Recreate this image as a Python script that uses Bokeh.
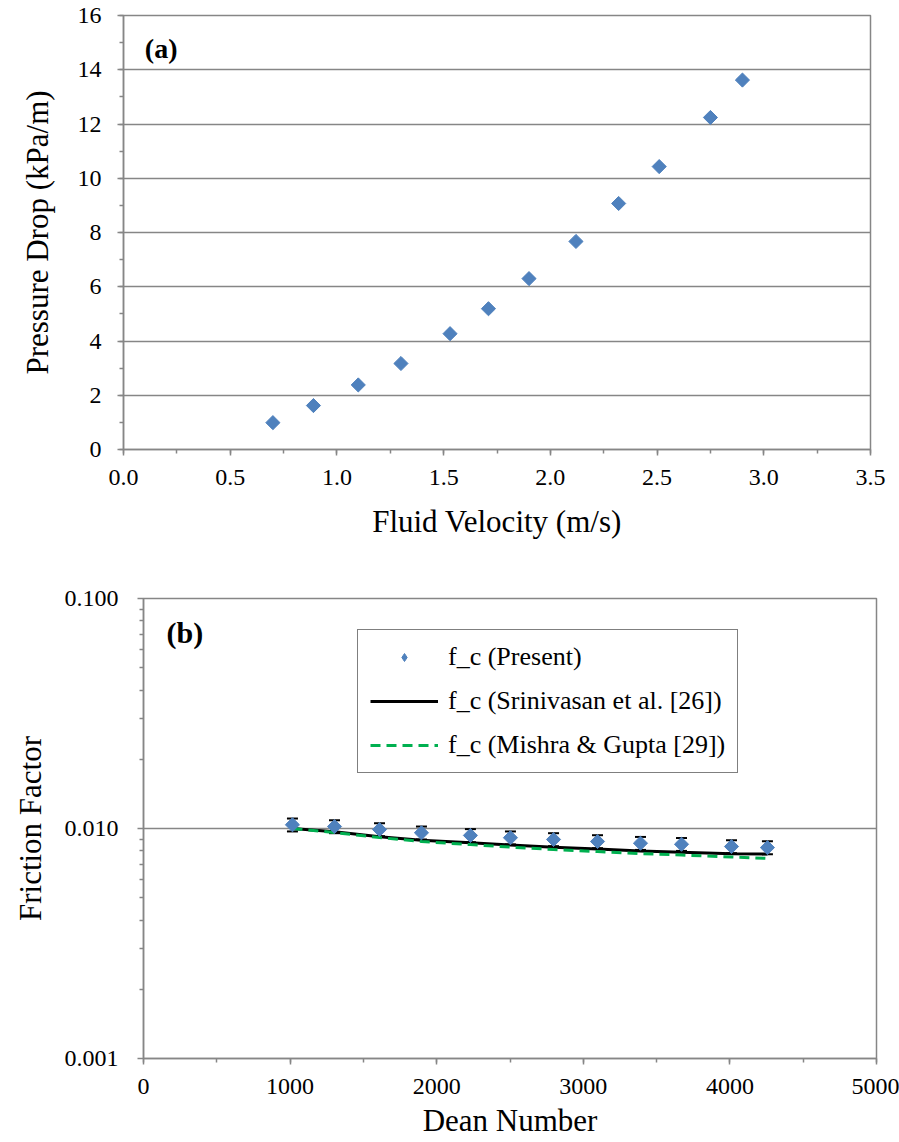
from bokeh.plotting import figure
from bokeh.models import (SingleIntervalTicker, FixedTicker, PrintfTickFormatter, Label,
                          Legend, LegendItem, Whisker, TeeHead, ColumnDataSource)
from bokeh.embed import file_html
from bokeh.resources import INLINE

# ---------------- data ----------------
velocity = [0.70, 0.89, 1.10, 1.30, 1.53, 1.71, 1.90, 2.12, 2.32, 2.51, 2.75, 2.90]
pressure_drop = [0.99, 1.62, 2.38, 3.17, 4.27, 5.19, 6.30, 7.67, 9.07, 10.43, 12.24, 13.62]

dean = [1016, 1303, 1610, 1896, 2230, 2503, 2797, 3097, 3390, 3670, 4011, 4256]
f_present = [0.01038, 0.01020, 0.00990, 0.00958, 0.00933, 0.00912, 0.00896, 0.00878,
             0.00863, 0.00854, 0.00835, 0.00826]
f_err = [0.00067, 0.00066, 0.00064, 0.00062, 0.00061, 0.00059, 0.00058, 0.00057,
         0.00056, 0.00055, 0.00054, 0.00054]
f_srinivasan = [0.01000, 0.00969, 0.00921, 0.00890, 0.00868, 0.00848, 0.00829, 0.00815,
                0.00799, 0.00788, 0.00776, 0.00774]
f_mishra = [0.01000, 0.00960, 0.00913, 0.00878, 0.00851, 0.00830, 0.00810, 0.00794,
            0.00778, 0.00767, 0.00752, 0.00741]

FONT = "'Liberation Serif'"
GRAY = "#868686"
BLUE = "#4F81BD"
GREEN = "#00B050"


def style(p):
    p.background_fill_color = "white"
    p.border_fill_color = "white"
    p.outline_line_color = GRAY
    p.outline_line_width = 1.5
    p.xgrid.visible = False
    p.ygrid.grid_line_color = GRAY
    p.ygrid.grid_line_width = 1.5
    for ax in (p.xaxis[0], p.yaxis[0]):
        ax.axis_line_color = GRAY
        ax.axis_line_width = 1.5
        ax.major_tick_line_color = GRAY
        ax.major_tick_line_width = 1.5
        ax.minor_tick_line_color = GRAY
        ax.minor_tick_line_width = 1.5
        ax.major_tick_in = 0
        ax.major_tick_out = 6
        ax.minor_tick_in = 0
        ax.minor_tick_out = 4
        ax.major_label_text_font = FONT
        ax.major_label_text_font_size = "24px"
        ax.major_label_text_color = "black"
        ax.axis_label_text_font = FONT
        ax.axis_label_text_font_size = "31px"
        ax.axis_label_text_font_style = "normal"
        ax.axis_label_text_color = "black"


# ---------------- (a) ----------------
p1 = figure(width=899, height=560, x_range=(0, 3.5), y_range=(0, 16),
            output_backend="svg", toolbar_location=None,
            min_border_left=123, min_border_right=29, min_border_top=15, min_border_bottom=111)
style(p1)
p1.xaxis.ticker = SingleIntervalTicker(interval=0.5, num_minor_ticks=2)
p1.yaxis.ticker = SingleIntervalTicker(interval=2, num_minor_ticks=2)
p1.xaxis.formatter = PrintfTickFormatter(format="%.1f")
p1.xaxis.axis_label = "Fluid Velocity (m/s)"
p1.yaxis.axis_label = "Pressure Drop (kPa/m)"
p1.xaxis.major_label_standoff = 14
p1.xaxis.axis_label_standoff = 16
p1.yaxis.major_label_standoff = 16
p1.yaxis.axis_label_standoff = 20

p1.scatter(velocity, pressure_drop, marker="square", size=10, angle=0.785398,
           fill_color=BLUE, line_color=BLUE)
p1.add_layout(Label(x=0.1, y=14.8, text="(a)", text_font=FONT, text_font_size="28px",
                    text_font_style="bold", text_baseline="middle", text_color="black"))

# ---------------- (b) ----------------
p2 = figure(width=899, height=582, x_range=(0, 5000), y_range=(0.001, 0.1),
            y_axis_type="log", output_backend="svg", toolbar_location=None,
            min_border_left=143, min_border_right=23, min_border_top=38, min_border_bottom=84)
style(p2)
p2.xaxis.ticker = SingleIntervalTicker(interval=1000, num_minor_ticks=2)
p2.yaxis.ticker = FixedTicker(ticks=[0.001, 0.01, 0.1],
                              minor_ticks=[0.002, 0.003, 0.004, 0.005, 0.006, 0.007, 0.008, 0.009,
                                           0.02, 0.03, 0.04, 0.05, 0.06, 0.07, 0.08, 0.09])
p2.yaxis.formatter = PrintfTickFormatter(format="%.3f")
p2.xaxis.axis_label = "Dean Number"
p2.yaxis.axis_label = "Friction Factor"
p2.xaxis.major_label_standoff = 14
p2.xaxis.axis_label_standoff = 6
p2.yaxis.major_label_standoff = 19
p2.yaxis.axis_label_standoff = 14

src = ColumnDataSource(dict(x=dean, f=f_present,
                            upper=[a + b for a, b in zip(f_present, f_err)],
                            lower=[a - b for a, b in zip(f_present, f_err)]))

r_sri = p2.line(dean, f_srinivasan, line_color="black", line_width=3)
r_mis = p2.line(dean, f_mishra, line_color=GREEN, line_width=3, line_dash="10 6")
p2.add_layout(Whisker(base="x", upper="upper", lower="lower", source=src,
                      line_color="black", line_width=1.5,
                      upper_head=TeeHead(size=11, line_color="black", line_width=2),
                      lower_head=TeeHead(size=11, line_color="black", line_width=2)))
# diamond used as the legend key (hidden beneath the rotated-square markers)
r_key = p2.scatter("x", "f", source=src, marker="diamond", size=10,
                   fill_color=BLUE, line_color=BLUE)
p2.scatter("x", "f", source=src, marker="square", size=10, angle=0.785398,
           fill_color=BLUE, line_color=BLUE)

p2.add_layout(Label(x=157, y=0.0711, text="(b)", text_font=FONT, text_font_size="30px",
                    text_font_style="bold", text_baseline="middle", text_color="black"))

legend = Legend(items=[LegendItem(label="f_c (Present)", renderers=[r_key]),
                       LegendItem(label="f_c (Srinivasan et al. [26])", renderers=[r_sri]),
                       LegendItem(label="f_c (Mishra & Gupta [29])", renderers=[r_mis])],
                location=(214, 285), orientation="vertical",
                label_text_font=FONT, label_text_font_size="26px", label_text_color="black",
                glyph_width=68, glyph_height=20, label_height=20, label_standoff=10,
                spacing=14, padding=12, margin=0,
                border_line_color="black", border_line_width=1.5,
                background_fill_color="white", background_fill_alpha=1.0)
p2.add_layout(legend, "center")

open("out.html", "w").write(file_html([p1, p2], INLINE))
